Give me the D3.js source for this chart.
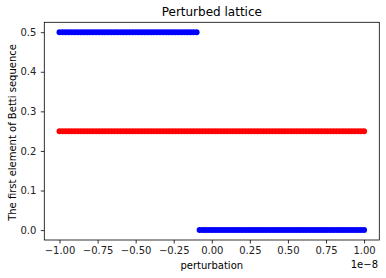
<!DOCTYPE html>
<html>
<head>
<meta charset="utf-8">
<script src="https://cdn.jsdelivr.net/npm/d3@7"></script>
<style>
  body { margin: 0; background: #fff; }
  text { font-family: "DejaVu Sans", sans-serif; }
</style>
</head>
<body>
<svg id="chart" width="386" height="278"></svg>
<script>
// perturbation values (in units of 1e-8)
var perturbation = [
  -1.00, -0.98, -0.96, -0.94, -0.92, -0.90, -0.88, -0.86, -0.84, -0.82,
  -0.80, -0.78, -0.76, -0.74, -0.72, -0.70, -0.68, -0.66, -0.64, -0.62,
  -0.60, -0.58, -0.56, -0.54, -0.52, -0.50, -0.48, -0.46, -0.44, -0.42,
  -0.40, -0.38, -0.36, -0.34, -0.32, -0.30, -0.28, -0.26, -0.24, -0.22,
  -0.20, -0.18, -0.16, -0.14, -0.12, -0.10, -0.08, -0.06, -0.04, -0.02,
   0.00,  0.02,  0.04,  0.06,  0.08,  0.10,  0.12,  0.14,  0.16,  0.18,
   0.20,  0.22,  0.24,  0.26,  0.28,  0.30,  0.32,  0.34,  0.36,  0.38,
   0.40,  0.42,  0.44,  0.46,  0.48,  0.50,  0.52,  0.54,  0.56,  0.58,
   0.60,  0.62,  0.64,  0.66,  0.68,  0.70,  0.72,  0.74,  0.76,  0.78,
   0.80,  0.82,  0.84,  0.86,  0.88,  0.90,  0.92,  0.94,  0.96,  0.98,
   1.00
];
// first element of Betti sequence, blue series
var bettiBlue = [
  0.5, 0.5, 0.5, 0.5, 0.5, 0.5, 0.5, 0.5, 0.5, 0.5,
  0.5, 0.5, 0.5, 0.5, 0.5, 0.5, 0.5, 0.5, 0.5, 0.5,
  0.5, 0.5, 0.5, 0.5, 0.5, 0.5, 0.5, 0.5, 0.5, 0.5,
  0.5, 0.5, 0.5, 0.5, 0.5, 0.5, 0.5, 0.5, 0.5, 0.5,
  0.5, 0.5, 0.5, 0.5, 0.5, 0.5, 0,   0,   0,   0,
  0,   0,   0,   0,   0,   0,   0,   0,   0,   0,
  0,   0,   0,   0,   0,   0,   0,   0,   0,   0,
  0,   0,   0,   0,   0,   0,   0,   0,   0,   0,
  0,   0,   0,   0,   0,   0,   0,   0,   0,   0,
  0,   0,   0,   0,   0,   0,   0,   0,   0,   0,
  0
];
// red series
var bettiRed = [
  0.25, 0.25, 0.25, 0.25, 0.25, 0.25, 0.25, 0.25, 0.25, 0.25,
  0.25, 0.25, 0.25, 0.25, 0.25, 0.25, 0.25, 0.25, 0.25, 0.25,
  0.25, 0.25, 0.25, 0.25, 0.25, 0.25, 0.25, 0.25, 0.25, 0.25,
  0.25, 0.25, 0.25, 0.25, 0.25, 0.25, 0.25, 0.25, 0.25, 0.25,
  0.25, 0.25, 0.25, 0.25, 0.25, 0.25, 0.25, 0.25, 0.25, 0.25,
  0.25, 0.25, 0.25, 0.25, 0.25, 0.25, 0.25, 0.25, 0.25, 0.25,
  0.25, 0.25, 0.25, 0.25, 0.25, 0.25, 0.25, 0.25, 0.25, 0.25,
  0.25, 0.25, 0.25, 0.25, 0.25, 0.25, 0.25, 0.25, 0.25, 0.25,
  0.25, 0.25, 0.25, 0.25, 0.25, 0.25, 0.25, 0.25, 0.25, 0.25,
  0.25, 0.25, 0.25, 0.25, 0.25, 0.25, 0.25, 0.25, 0.25, 0.25,
  0.25
];
var xTicks = [-1.00, -0.75, -0.50, -0.25, 0.00, 0.25, 0.50, 0.75, 1.00];
var yTicks = [0.0, 0.1, 0.2, 0.3, 0.4, 0.5];

var svg = d3.select("#chart");
var padL = 44.3, padR = 379.3, padT = 22.3, padB = 240;

var x = d3.scaleLinear().domain([-1.1, 1.1]).range([padL, padR]);
var y = d3.scaleLinear().domain([-0.025, 0.525]).range([padB, padT]);

/**
 * Draw the two scatter series.
 */
function series(vals, fill) {
    svg.append("g").selectAll("circle")
	.data(perturbation)
	.enter().append("circle")
	.attr("cx", function (d) { return x(d); })
	.attr("cy", function (d, i) { return y(vals[i]); })
	.attr("r", 3)
	.attr("fill", fill);
}
series(bettiBlue, "#0000ff");
series(bettiRed, "#ff0000");

/**
 * Axes and frame.
 */
var xAxis = svg.append("g")
    .attr("transform", "translate(0," + padB + ")")
    .call(d3.axisBottom(x).tickValues(xTicks).tickFormat(d3.format(".2f"))
	  .tickSize(3.5).tickPadding(3.5).tickSizeOuter(0));
var yAxis = svg.append("g")
    .attr("transform", "translate(" + padL + ",0)")
    .call(d3.axisLeft(y).tickValues(yTicks).tickFormat(d3.format(".1f"))
	  .tickSize(3.5).tickPadding(4.5).tickSizeOuter(0));
[xAxis, yAxis].forEach(function (a) {
    a.select(".domain").remove();
    a.selectAll("line").attr("stroke", "#000").attr("stroke-width", 0.8);
    a.selectAll("text").attr("fill", "#222")
	.style("font-family", "DejaVu Sans").style("font-size", "10px");
});

svg.append("rect")
    .attr("x", padL).attr("y", padT)
    .attr("width", padR - padL).attr("height", padB - padT)
    .attr("fill", "none").attr("stroke", "#000").attr("stroke-width", 0.8);

/**
 * Labels.
 */
svg.append("text")
    .attr("x", (padL + padR) / 2).attr("y", 16)
    .attr("text-anchor", "middle").style("font-size", "12px")
    .text("Perturbed lattice");
svg.append("text")
    .attr("x", (padL + padR) / 2).attr("y", 268.5)
    .attr("text-anchor", "middle").style("font-size", "10px")
    .text("perturbation");
svg.append("text")
    .attr("x", 378).attr("y", 268)
    .attr("text-anchor", "end").style("font-size", "10px")
    .text("1e\u22128");
svg.append("text")
    .attr("transform", "translate(15.5,132.5) rotate(-90)")
    .attr("text-anchor", "middle").style("font-size", "10px")
    .text("The first element of Betti sequence");
</script>
</body>
</html>
